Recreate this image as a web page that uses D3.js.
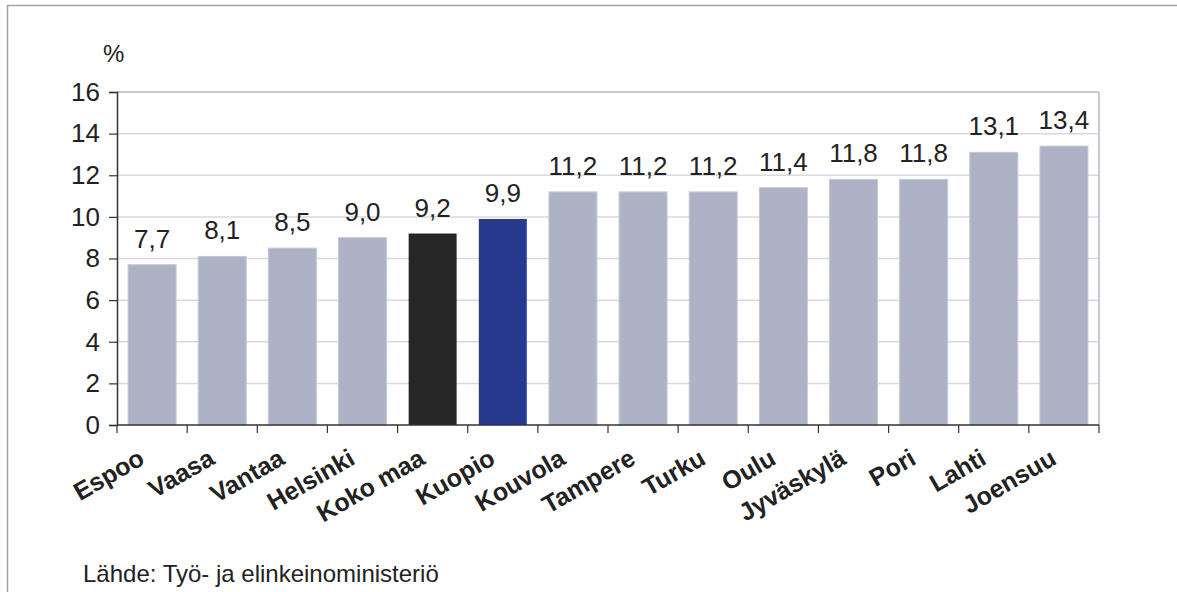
<!DOCTYPE html>
<html>
<head>
<meta charset="utf-8">
<script src="https://cdn.jsdelivr.net/npm/d3@7"></script>
<style>
  body { margin: 0; background: #fff; }
  svg { display: block; font-family: "Liberation Sans", Arial, sans-serif; }
</style>
</head>
<body>
<svg id="chart" width="1177" height="592"></svg>
<script>
// data
const cities = ["Espoo", "Vaasa", "Vantaa", "Helsinki", "Koko maa", "Kuopio", "Kouvola",
  "Tampere", "Turku", "Oulu", "Jyväskylä", "Pori", "Lahti", "Joensuu"];
const rates = [7.7, 8.1, 8.5, 9.0, 9.2, 9.9, 11.2, 11.2, 11.2, 11.4, 11.8, 11.8, 13.1, 13.4];
const yTicks = [0, 2, 4, 6, 8, 10, 12, 14, 16];
const sourceText = "Lähde: Työ- ja elinkeinoministeriö";

const svg = d3.select("#chart");
const plotLeft = 117, plotRight = 1099, plotTop = 92, plotBottom = 425;

// outer frame
svg.append("path")
  .attr("d", "M7.5,592V5.5H1177")
  .attr("fill", "none")
  .attr("stroke", "#a3a3a3")
  .attr("stroke-width", 1.5);

const x = d3.scaleBand()
  .domain(cities)
  .range([plotLeft, plotRight])
  .paddingInner(0.316)
  .paddingOuter(0.158);

const xSlot = d3.scaleBand().domain(cities).range([plotLeft, plotRight]);

const y = d3.scaleLinear().domain([0, 16]).range([plotBottom, plotTop]);

function barColor(name) {
  if (name === "Koko maa") return "#262626";
  if (name === "Kuopio") return "#283a8f";
  return "#adb3c6";
}

// grid
svg.append("g")
  .selectAll("line")
  .data(yTicks.filter(d => d > 0))
  .join("line")
  .attr("x1", plotLeft).attr("x2", plotRight)
  .attr("y1", d => y(d)).attr("y2", d => y(d))
  .attr("stroke", d => d === 16 ? "#c5c9d6" : "#d8dae2")
  .attr("stroke-width", d => d === 16 ? 2 : 1.5);

// right border of plot
svg.append("line")
  .attr("x1", plotRight).attr("x2", plotRight)
  .attr("y1", y(16)).attr("y2", y(0))
  .attr("stroke", "#c5c9d6")
  .attr("stroke-width", 2);

// bars
svg.append("g")
  .selectAll("rect")
  .data(cities)
  .join("rect")
  .attr("x", d => x(d))
  .attr("width", x.bandwidth())
  .attr("y", (d, i) => y(rates[i]))
  .attr("height", (d, i) => y(0) - y(rates[i]))
  .attr("fill", barColor)
  .attr("stroke", d => d === "Koko maa" || d === "Kuopio" ? "none" : "#c4c8d5")
  .attr("stroke-width", 1);

// value labels
svg.append("g")
  .selectAll("text")
  .data(cities)
  .join("text")
  .attr("x", d => x(d) + x.bandwidth() / 2)
  .attr("y", (d, i) => y(rates[i]) - 17)
  .attr("text-anchor", "middle")
  .attr("font-size", 26)
  .attr("fill", "#222")
  .text((d, i) => d3.format(".1f")(rates[i]).replace(".", ","));

// y axis
const yAxis = svg.append("g")
  .attr("transform", `translate(${plotLeft},0)`)
  .call(d3.axisLeft(y).tickValues(yTicks).tickSize(8).tickPadding(9).tickFormat(d3.format("d")));
yAxis.select(".domain").attr("stroke", "#333").attr("stroke-width", 1.5);
yAxis.selectAll(".tick line").attr("stroke", "#333").attr("stroke-width", 1.2);
yAxis.selectAll(".tick text").attr("font-size", 26).attr("fill", "#222")
  .attr("font-family", "'Liberation Sans', Arial, sans-serif");

// x axis line + ticks at category boundaries
svg.append("line")
  .attr("x1", plotLeft).attr("x2", plotRight)
  .attr("y1", plotBottom).attr("y2", plotBottom)
  .attr("stroke", "#333").attr("stroke-width", 1.5);

const bounds = cities.map(d => xSlot(d)).concat([plotRight]);
svg.append("g")
  .selectAll("line")
  .data(bounds)
  .join("line")
  .attr("x1", d => d).attr("x2", d => d)
  .attr("y1", plotBottom).attr("y2", plotBottom + 8)
  .attr("stroke", "#333").attr("stroke-width", 1.2);

// x labels
svg.append("g")
  .selectAll("text")
  .data(cities)
  .join("text")
  .attr("transform", d => `translate(${xSlot(d) + xSlot.bandwidth() / 2 - 6},463) rotate(-30)`)
  .attr("text-anchor", "end")
  .attr("font-size", 25)
  .attr("font-weight", "bold")
  .attr("fill", "#222")
  .text(d => d);

// unit
svg.append("text")
  .attr("x", 103).attr("y", 62)
  .attr("font-size", 24)
  .attr("fill", "#222")
  .text("%");

// source
svg.append("text")
  .attr("x", 83).attr("y", 582)
  .attr("font-size", 24)
  .attr("fill", "#222")
  .text(sourceText);
</script>
</body>
</html>
